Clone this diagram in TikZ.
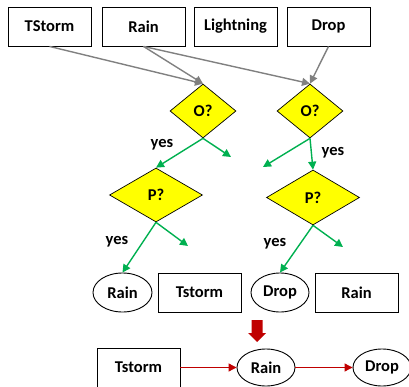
\documentclass[tikz,border=0pt]{standalone}
\usepackage{fontspec}
\setmainfont{Carlito}
\usetikzlibrary{shapes.geometric,arrows.meta}
\definecolor{grayarr}{RGB}{128,128,128}
\definecolor{greenarr}{RGB}{0,176,80}
\definecolor{darkred}{RGB}{192,0,0}
\definecolor{yel}{RGB}{255,255,0}
\tikzset{
  txt/.style={font=\fontsize{16.5}{19}\selectfont\bfseries, text=black},
  box/.style={txt, draw=black, line width=0.9pt, rectangle, minimum width=83pt, minimum height=39pt, inner sep=0pt},
  oval/.style={txt, draw=black, line width=0.9pt, ellipse, minimum width=59pt, minimum height=39pt, inner sep=0pt},
  dia/.style={txt, draw=black, line width=0.7pt, fill=yel, diamond, inner sep=0pt, aspect=1.2},
  grayarrow/.style={draw=grayarr, line width=1.4pt, -{Triangle[length=8pt,width=8pt]}},
  greenarrow/.style={draw=greenarr, line width=1.4pt, -{Triangle[length=8pt,width=8pt]}},
  redarrow/.style={draw=darkred, line width=1.1pt, -{Triangle[length=8pt,width=8pt]}},
  lbl/.style={txt, inner sep=0pt}
}
\begin{document}
\begin{tikzpicture}[x=1pt,y=-1pt]
\useasboundingbox (0,0) rectangle (409,387);
\clip (0,0) rectangle (409,387);
% top row
\node[box] (ts) at (49.5,26.5) {TStorm};
\node[box] (rn) at (143.5,26.5) {Rain};
\node[box] (lt) at (235.5,26.5) {Lightning};
\node[box] (dp) at (328.5,26.5) {Drop};
% diamonds
\node[dia, minimum width=66pt, minimum height=54pt] (o1) at (203,111) {O?};
\node[dia, minimum width=66pt, minimum height=54pt] (o2) at (310,111) {O?};
\node[dia, minimum width=93pt, minimum height=54pt] (p1) at (156,195) {P?};
\node[dia, minimum width=93pt, minimum height=55pt] (p2) at (313,197.5) {P?};
% gray arrows
\draw[grayarrow] (ts.south) -- (o1.north);
\draw[grayarrow] (rn.south) -- (o1.north);
\draw[grayarrow] (rn.south) -- (o2.north);
\draw[grayarrow] (dp.south) -- (o2.north);
% free ends
\coordinate (n1) at (231,157);
\coordinate (n2) at (263,167);
\coordinate (n3) at (188,246);
\coordinate (n4) at (343,247);
% outcome row
\node[oval] (e1) at (122.5,292.5) {Rain};
\node[box] (b1) at (199.5,292.5) {Tstorm};
\node[oval, minimum width=58pt] (e2) at (280,292.5) {Drop};
\node[box] (b2) at (356.5,292.5) {Rain};
% green arrows
\draw[greenarrow] (o1.south) -- (p1.north);
\draw[greenarrow] (o1.south) -- (n1);
\draw[greenarrow] (o2.south) -- (n2);
\draw[greenarrow] (o2.south) -- (p2.north);
\draw[greenarrow] (p1.south) -- (e1.north);
\draw[greenarrow] (p1.south) -- (n3);
\draw[greenarrow] (p2.south) -- (e2.north);
\draw[greenarrow] (p2.south) -- (n4);
% yes labels
\node[lbl] (y1) at (162,145) {yes};
\node[lbl] (y2) at (333,153) {yes};
\node[lbl] (y3) at (117,242) {yes};
\node[lbl] (y4) at (275,244) {yes};
% red block arrow
\fill[darkred] (251.5,320) -- (262.5,320) -- (262.5,333) -- (266,333) -- (257,342) -- (248,333) -- (251.5,333) -- cycle;
% bottom row
\node[box] (bt) at (138.5,367.5) {Tstorm};
\node[oval, minimum width=58pt, minimum height=37pt] (er) at (266,367.5) {Rain};
\node[oval, minimum width=58pt, minimum height=37pt] (ed) at (382,367.5) {Drop};
\draw[redarrow] (bt.east) -- (er.west);
\draw[redarrow] (er.east) -- (ed.west);
\end{tikzpicture}
\end{document}
